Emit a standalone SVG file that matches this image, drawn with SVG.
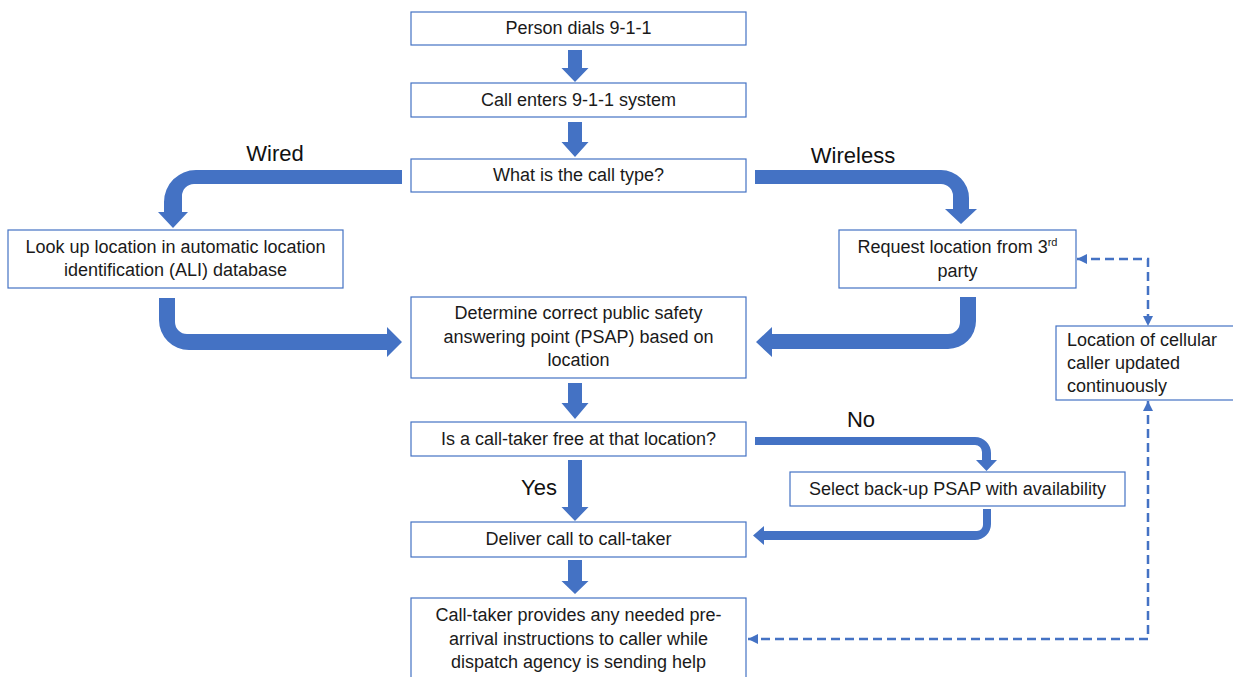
<svg xmlns="http://www.w3.org/2000/svg" width="1233" height="677" viewBox="0 0 1233 677">
<style>
.box{fill:#fff;stroke:#4472C4;stroke-width:1.2}
.t{font-family:"Liberation Sans",Arial,sans-serif;font-size:18px;fill:#1a1a1a;text-anchor:middle}
.tl{font-family:"Liberation Sans",Arial,sans-serif;font-size:18px;fill:#1a1a1a}
.lbl{font-family:"Liberation Sans",Arial,sans-serif;font-size:22px;fill:#111;text-anchor:middle}
.ba{fill:#4472C4}
.dash{fill:none;stroke:#4472C4;stroke-width:2.5;stroke-dasharray:9 5}
</style>
<defs>
<marker id="ah" markerUnits="userSpaceOnUse" markerWidth="10" markerHeight="10" viewBox="0 0 10 10" refX="10" refY="5" orient="auto-start-reverse">
<path d="M0,0 L10,5 L0,10 Z" fill="#4472C4"/>
</marker>
</defs>
<rect width="1233" height="677" fill="#fff"/>

<g id="connectors">
<path class="ba" d="M568,50 H582 V68 H588.5 L575,82 L561.5,68 H568 Z"/>
<path class="ba" d="M568,122 H582 V142 H588.5 L575,157 L561.5,142 H568 Z"/>
<path class="ba" d="M568,383 H582 V403 H588.5 L575,419 L561.5,403 H568 Z"/>
<path class="ba" d="M568,460 H582 V507 H588.5 L575,521 L561.5,507 H568 Z"/>
<path class="ba" d="M568,560 H582 V581 H588.5 L575,594 L561.5,581 H568 Z"/>
<path class="ba" d="M402,170 L196,170 A32,32 0 0 0 164,202 L164,212 L158,212 L173,228 L188,212 L182,212 L182,196 A12,12 0 0 1 194,184 L402,184 Z"/>
<path class="ba" d="M159,298 L175,298 L175,322 A12,12 0 0 0 187,334 L387,334 L387,327 L402,342 L387,357 L387,350 L189,350 A30,30 0 0 1 159,320 Z"/>
<path class="ba" d="M755,170 L941,170 A28,28 0 0 1 969,198 L969,209 L977,209 L961,224 L945,209 L953,209 L953,196 A12,12 0 0 0 941,184 L755,184 Z"/>
<path class="ba" d="M960,297 L976,297 L976,321 A28,28 0 0 1 948,349 L772,349 L772,357 L756,342 L772,327 L772,334 L948,334 A12,12 0 0 0 960,322 Z"/>
<path class="ba" d="M755,437 L975,437 A16,16 0 0 1 991,453 L991,460 L997,460 L986.5,471 L976,460 L982,460 L982,452 A7,7 0 0 0 975,445 L755,445 Z"/>
<path class="ba" d="M983,509 L991,509 L991,524 A16,16 0 0 1 975,540 L764,540 L764,545 L753,535.5 L764,526 L764,531 L977,531 A6,6 0 0 0 983,525 Z"/>
<path class="dash" d="M1077,259 H1148 V326" marker-start="url(#ah)" marker-end="url(#ah)"/>
<path class="dash" d="M1148,401 V639 H748" marker-start="url(#ah)" marker-end="url(#ah)"/>
<text class="lbl" x="275" y="161">Wired</text>
<text class="lbl" x="853" y="163">Wireless</text>
<text class="lbl" x="861" y="427">No</text>
<text class="lbl" x="539" y="495">Yes</text>
</g>

<g id="n1"><rect class="box" x="411" y="12" width="335" height="33"/><text class="t" x="578.5" y="34">Person dials 9-1-1</text></g>
<g id="n2"><rect class="box" x="411" y="83" width="335" height="34"/><text class="t" x="578.5" y="106">Call enters 9-1-1 system</text></g>
<g id="n3"><rect class="box" x="411" y="159" width="335" height="33"/><text class="t" x="578.5" y="181">What is the call type?</text></g>
<g id="n4"><rect class="box" x="8" y="230" width="335" height="58"/><text class="t" x="175.5" y="253">Look up location in automatic location</text><text class="t" x="175.5" y="276">identification (ALI) database</text></g>
<g id="n5"><rect class="box" x="839" y="230" width="237" height="58"/><text class="t" x="957.5" y="253">Request location from 3<tspan dy="-7" font-size="11">rd</tspan></text><text class="t" x="957.5" y="277">party</text></g>
<g id="n6"><rect class="box" x="411" y="297" width="335" height="81"/><text class="t" x="578.5" y="319">Determine correct public safety</text><text class="t" x="578.5" y="343">answering point (PSAP) based on</text><text class="t" x="578.5" y="366">location</text></g>
<g id="n7"><rect class="box" x="411" y="422" width="335" height="34"/><text class="t" x="578.5" y="445">Is a call-taker free at that location?</text></g>
<g id="n8"><rect class="box" x="790" y="472" width="335" height="34"/><text class="t" x="957.5" y="495">Select back-up PSAP with availability</text></g>
<g id="n9"><rect class="box" x="411" y="522" width="335" height="35"/><text class="t" x="578.5" y="545">Deliver call to call-taker</text></g>
<g id="n10"><rect class="box" x="411" y="598" width="335" height="95"/><text class="t" x="578.5" y="621">Call-taker provides any needed pre-</text><text class="t" x="578.5" y="645">arrival instructions to caller while</text><text class="t" x="578.5" y="668">dispatch agency is sending help</text></g>
<g id="n11"><rect class="box" x="1056" y="326" width="200" height="74"/><text class="tl" x="1067" y="346">Location of cellular</text><text class="tl" x="1067" y="369">caller updated</text><text class="tl" x="1067" y="392">continuously</text></g>
</svg>
